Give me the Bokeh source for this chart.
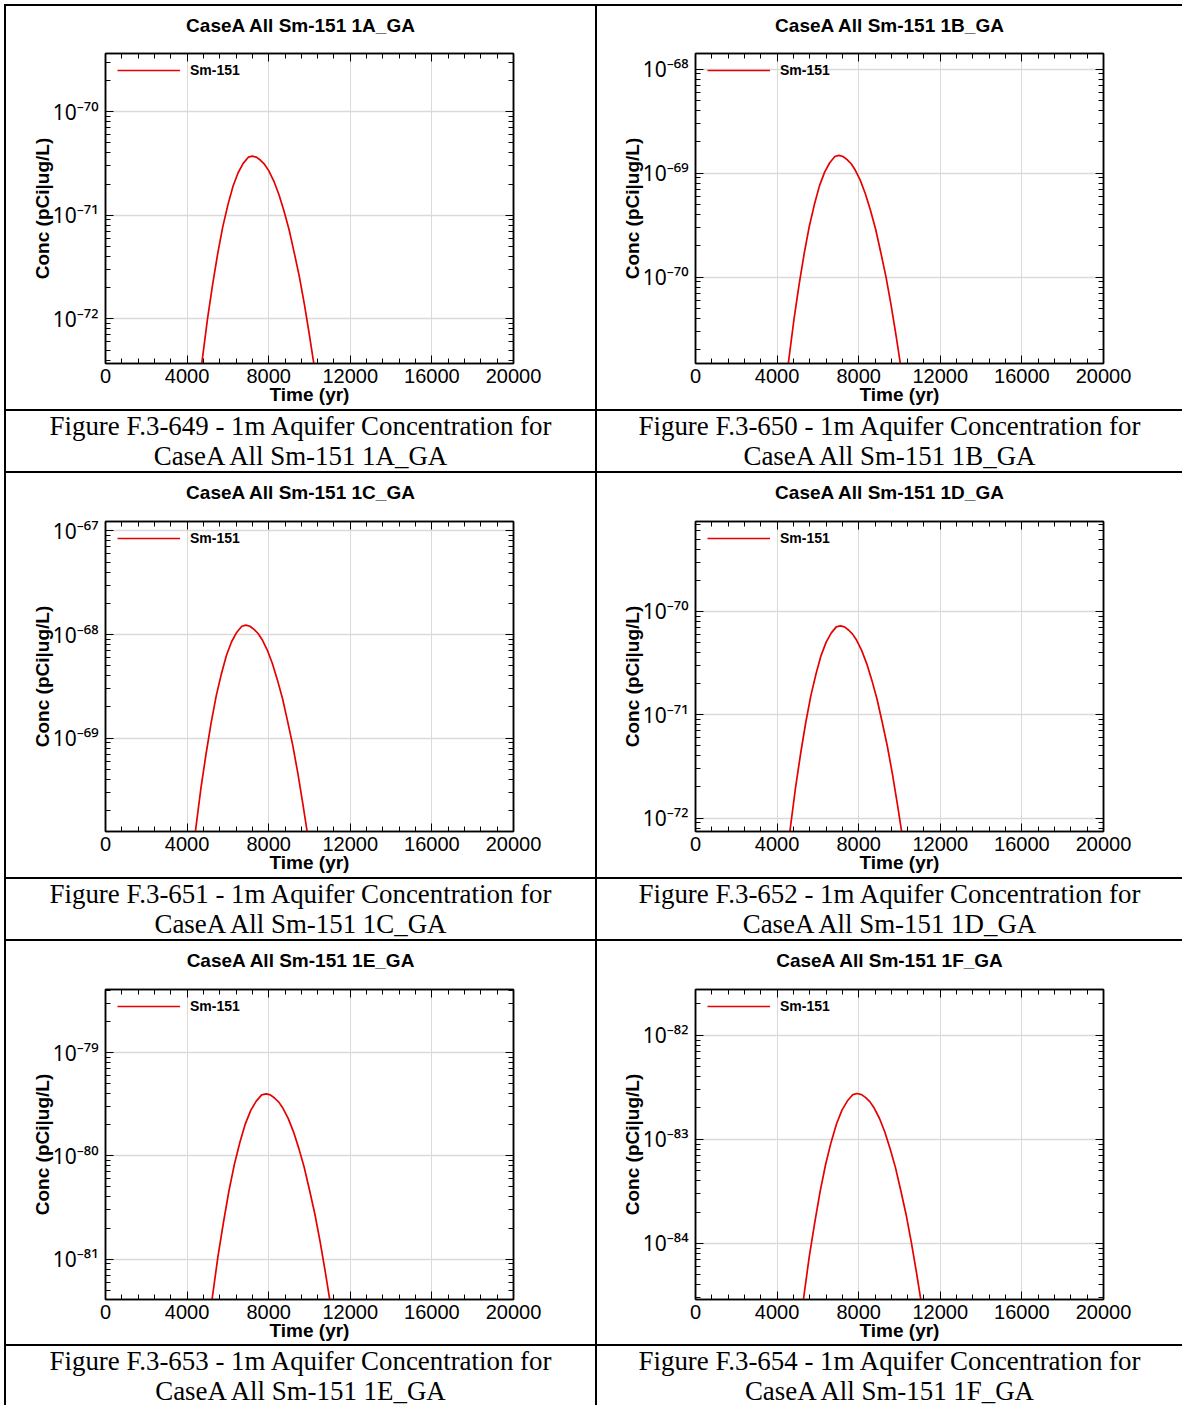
import math
from bokeh.plotting import figure
from bokeh.layouts import row, column
from bokeh.models import (Range1d, FixedTicker, SingleIntervalTicker, LogAxis, LinearAxis,
                          CustomJSTickFormatter, Div, Legend, LegendItem)
from bokeh.embed import file_html
from bokeh.resources import INLINE

# ---------------- data ----------------
series_name = "Sm-151"
panel_ids = ["1A_GA", "1B_GA", "1C_GA", "1D_GA", "1E_GA", "1F_GA"]
figure_numbers = ["649", "650", "651", "652", "653", "654"]
x_tick_interval = 4000
x_limits = (0, 20000)
# visible y-axis limits, as log10 exponents (bottom, top)
y_limit_exponents = [(-72.43, -69.44), (-70.83, -67.85), (-69.90, -66.91),
                     (-72.13, -69.13), (-81.39, -78.39), (-84.54, -81.56)]

time_1A = [4700, 5000, 5250, 5500, 5750, 6000, 6250, 6500, 6750, 7000, 7200, 7400,
           7600, 7800, 8000, 8250, 8500, 8750, 9000, 9250, 9500, 9750, 10000, 10250]
log10_conc_1A = [-72.46, -72.00, -71.67, -71.37, -71.11, -70.90, -70.72, -70.59, -70.50, -70.44, -70.43, -70.44,
                 -70.47, -70.51, -70.57, -70.67, -70.80, -70.96, -71.14, -71.36, -71.59, -71.86, -72.16, -72.48]

time_1B = [4530, 4830, 5080, 5330, 5580, 5830, 6080, 6330, 6580, 6830, 7030, 7230,
           7430, 7630, 7830, 8080, 8330, 8580, 8830, 9080, 9330, 9580, 9830, 10080]
log10_conc_1B = [-70.86, -70.40, -70.07, -69.77, -69.51, -69.30, -69.12, -68.99, -68.90, -68.84, -68.83, -68.84,
                 -68.87, -68.91, -68.97, -69.07, -69.20, -69.36, -69.54, -69.76, -69.99, -70.26, -70.56, -70.88]

time_1C = [4380, 4680, 4930, 5180, 5430, 5680, 5930, 6180, 6430, 6680, 6880, 7080,
           7280, 7480, 7680, 7930, 8180, 8430, 8680, 8930, 9180, 9430, 9680, 9930]
log10_conc_1C = [-69.94, -69.48, -69.15, -68.85, -68.59, -68.38, -68.20, -68.07, -67.98, -67.92, -67.91, -67.92,
                 -67.95, -67.99, -68.05, -68.15, -68.28, -68.44, -68.62, -68.84, -69.07, -69.34, -69.64, -69.96]

time_1D = [4600, 4900, 5150, 5400, 5650, 5900, 6150, 6400, 6650, 6900, 7100, 7300,
           7500, 7700, 7900, 8150, 8400, 8650, 8900, 9150, 9400, 9650, 9900, 10150]
log10_conc_1D = [-72.17, -71.71, -71.38, -71.08, -70.82, -70.61, -70.43, -70.30, -70.21, -70.15, -70.14, -70.15,
                 -70.18, -70.22, -70.28, -70.38, -70.51, -70.67, -70.85, -71.07, -71.30, -71.57, -71.87, -72.19]

time_1E = [5195, 5515, 5785, 6050, 6320, 6585, 6855, 7120, 7390, 7655, 7870, 8080,
           8285, 8495, 8700, 8960, 9220, 9480, 9740, 10000, 10260, 10520, 10780, 11040]
log10_conc_1E = [-81.43, -80.97, -80.64, -80.34, -80.08, -79.87, -79.69, -79.56, -79.47, -79.41, -79.40, -79.41,
                 -79.44, -79.48, -79.54, -79.64, -79.77, -79.93, -80.11, -80.33, -80.56, -80.83, -81.13, -81.45]

time_1F = [5255, 5575, 5845, 6110, 6380, 6645, 6915, 7180, 7450, 7715, 7930, 8140,
           8345, 8555, 8760, 9020, 9280, 9540, 9800, 10060, 10320, 10580, 10840, 11100]
log10_conc_1F = [-84.59, -84.13, -83.80, -83.50, -83.24, -83.03, -82.85, -82.72, -82.63, -82.57, -82.56, -82.57,
                 -82.60, -82.64, -82.70, -82.80, -82.93, -83.09, -83.27, -83.49, -83.72, -83.99, -84.29, -84.61]

times = [time_1A, time_1B, time_1C, time_1D, time_1E, time_1F]
log10_concs = [log10_conc_1A, log10_conc_1B, log10_conc_1C, log10_conc_1D, log10_conc_1E, log10_conc_1F]

# ---------------- styling ----------------
SANS = "Liberation Sans"
LINE_RED = "#e60000"
GRID = "#dadada"

LEFT_W, RIGHT_W = 589, 585
LEFT_MB = (99, 82)
RIGHT_MB = (98, 79)
TITLE_H = 30
ROW_H = [403, 404, 403]
ROW_MB = [(47, 46), (48, 46), (48, 45)]
CAP_H = [60, 60, 59]

POW10_JS = """
const e = Math.round(Math.log10(tick));
const sup = {"-": "\u207b", "0": "\u2070", "1": "\u00b9", "2": "\u00b2", "3": "\u00b3",
             "4": "\u2074", "5": "\u2075", "6": "\u2076", "7": "\u2077", "8": "\u2078", "9": "\u2079"};
return "10" + String(e).split("").map(c => sup[c]).join("");
"""


def blank_formatter():
    return CustomJSTickFormatter(code="return ''")


def make_panel(i, col, r):
    w = LEFT_W if col == 0 else RIGHT_W
    mbl, mbr = LEFT_MB if col == 0 else RIGHT_MB
    h = ROW_H[r] - TITLE_H
    mbt, mbb = ROW_MB[r]
    lo, hi = y_limit_exponents[i]
    p = figure(width=w, height=h, x_range=Range1d(*x_limits),
               y_range=Range1d(10.0 ** lo, 10.0 ** hi), y_axis_type="log",
               output_backend="svg", toolbar_location=None,
               min_border_left=mbl, min_border_right=mbr,
               min_border_top=mbt - TITLE_H, min_border_bottom=mbb, margin=0)
    p.background_fill_color = "white"
    p.border_fill_color = "white"
    p.outline_line_color = "black"
    p.outline_line_width = 1.5

    xt = SingleIntervalTicker(interval=x_tick_interval, num_minor_ticks=5)
    decades = list(range(math.ceil(lo), math.floor(hi) + 1))
    minors = [m * 10.0 ** k for k in range(math.floor(lo), math.ceil(hi)) for m in range(2, 10)]
    yt = FixedTicker(ticks=[10.0 ** k for k in decades], minor_ticks=minors)

    xa = p.xaxis[0]
    xa.ticker = xt
    xa.axis_label = "Time (yr)"
    ya = p.yaxis[0]
    ya.ticker = yt
    ya.formatter = CustomJSTickFormatter(code=POW10_JS)
    ya.axis_label = "Conc (pCi|ug/L)"

    top = LinearAxis(ticker=xt, formatter=blank_formatter())
    right = LogAxis(ticker=yt, formatter=blank_formatter())
    p.add_layout(top, "above")
    p.add_layout(right, "right")

    for ax in [xa, ya, top, right]:
        ax.axis_line_color = "black"
        ax.axis_line_width = 1.5
        ax.major_tick_line_color = "black"
        ax.minor_tick_line_color = "black"
        ax.major_tick_in = 8
        ax.major_tick_out = 0
        ax.minor_tick_in = 5
        ax.minor_tick_out = 0
        ax.major_label_text_font = SANS
        ax.major_label_text_color = "black"
        ax.axis_label_text_font = SANS
        ax.axis_label_text_font_style = "bold"
        ax.axis_label_text_font_size = "19px"
        ax.axis_label_text_color = "black"
    for ax in [top, right]:
        ax.major_label_standoff = 0
        ax.major_label_text_font_size = "0px"
    xa.major_label_text_font_size = "20px"
    xa.major_label_standoff = 5
    xa.axis_label_standoff = -2
    ya.major_label_text_font = "Noto Sans"
    ya.major_label_text_font_size = "21px"
    ya.major_label_standoff = 7
    ya.axis_label_standoff = -3

    p.xgrid.ticker = xt
    p.ygrid.ticker = yt
    p.xgrid.grid_line_color = GRID
    p.ygrid.grid_line_color = GRID
    p.xgrid.grid_line_width = 1
    p.ygrid.grid_line_width = 1.5

    conc = [10.0 ** e for e in log10_concs[i]]
    ln = p.line(times[i], conc, line_color=LINE_RED, line_width=1.7)
    legend = Legend(items=[LegendItem(label=series_name, renderers=[ln])], location=(12, 285))
    legend.margin = 0
    legend.padding = 0
    legend.glyph_width = 63
    legend.glyph_height = 8
    legend.label_height = 8
    legend.label_standoff = 10
    legend.label_text_font = SANS
    legend.label_text_font_style = "bold"
    legend.label_text_font_size = "14px"
    legend.label_text_color = "black"
    legend.border_line_alpha = 0
    legend.background_fill_alpha = 0
    p.add_layout(legend)

    title = Div(text=('<div style="font-family:\'Liberation Sans\',sans-serif;font-weight:bold;'
                      'font-size:19px;line-height:20px;text-align:center;color:black;'
                      'width:%dpx;margin:10px 0 0 0;padding:0;">CaseA All Sm-151 %s</div>'
                      % (w, panel_ids[i])),
                width=w, height=TITLE_H, margin=0)
    return column(title, p, spacing=0, margin=0)


def vline(h):
    return Div(text="", width=2, height=h, margin=0,
               styles={"background-color": "black"})


def hline():
    return Div(text="", width=LEFT_W + RIGHT_W + 4, height=2, margin=0,
               styles={"background-color": "black"})


def caption(i, w, h):
    txt = ('<div style="font-family:\'Liberation Serif\',serif;font-size:26.9px;line-height:30px;'
           'text-align:center;color:black;width:%dpx;margin:0;padding:0;">'
           'Figure F.3-%s - 1m Aquifer Concentration for<br>CaseA All Sm-151 %s</div>'
           % (w, figure_numbers[i], panel_ids[i]))
    return Div(text=txt, width=w, height=h, margin=0)


children = [hline()]
for r in range(3):
    a, b = 2 * r, 2 * r + 1
    children.append(row(vline(ROW_H[r]), make_panel(a, 0, r), vline(ROW_H[r]),
                        make_panel(b, 1, r), spacing=0, margin=0))
    children.append(hline())
    children.append(row(vline(CAP_H[r]), caption(a, LEFT_W, CAP_H[r]), vline(CAP_H[r]),
                        caption(b, RIGHT_W, CAP_H[r]), spacing=0, margin=0))
    if r < 2:
        children.append(hline())

layout = column(*children, spacing=0, margin=(4, 0, 0, 4))

open("out.html", "w").write(file_html(layout, INLINE))
